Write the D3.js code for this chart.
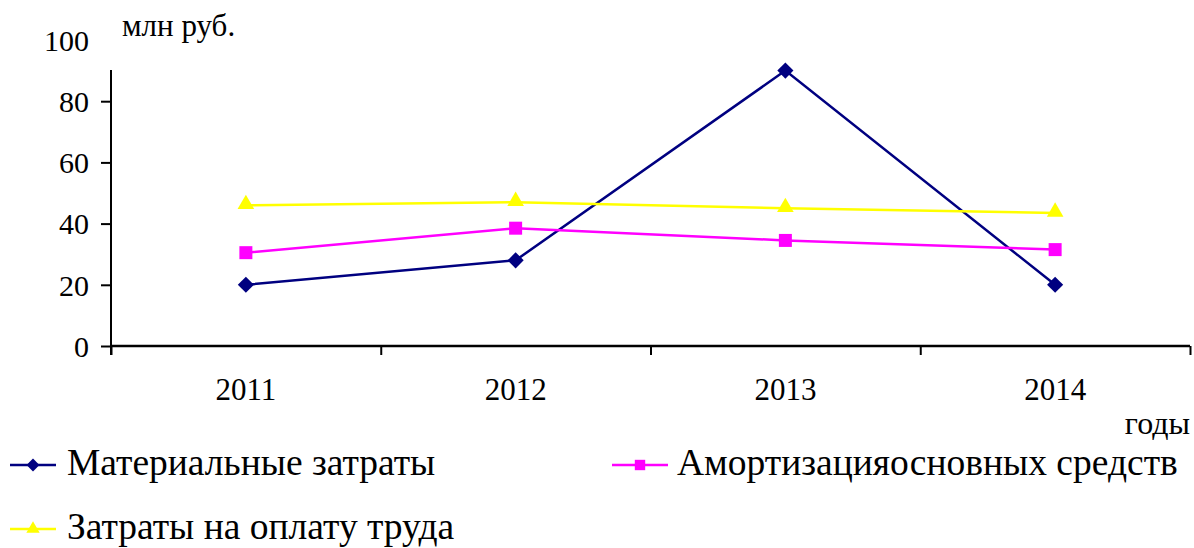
<!DOCTYPE html>
<html>
<head>
<meta charset="utf-8">
<script src="https://cdn.jsdelivr.net/npm/d3@7"></script>
</head>
<body style="margin:0">
<script>
// data
var years = ['2011', '2012', '2013', '2014'];
var material = [20, 28, 90, 20];
var amort = [30.5, 38.5, 34.5, 31.5];
var labor = [46, 47, 45, 43.5];
var yTicks = [0, 20, 40, 60, 80, 100];
var seriesNames = ['Материальные затраты', 'Амортизацияосновных средств', 'Затраты на оплату труда'];

var W = 1194, H = 548;
var mLeft = 111, mRight = 1190, mTop = 40, mBottom = 346;
var serifFont = "'Liberation Serif', 'Times New Roman', serif";

var svg = d3.select('body').append('svg').attr('width', W).attr('height', H)
  .style('font-family', serifFont);

var x = d3.scaleBand().domain(years).range([mLeft, mRight]);
var y = d3.scaleLinear().domain([0, 100]).range([mBottom, mTop]);

// y axis (no tick at 100, axis line starts below it)
var yAxis = svg.append('g').attr('transform', `translate(${mLeft},0)`)
  .call(d3.axisLeft(y).tickValues(yTicks).tickSize(10).tickPadding(12));
yAxis.attr('font-family', null);
yAxis.select('.domain').remove();
yAxis.selectAll('.tick').filter(d => d == 100).select('line').remove();
yAxis.selectAll('line').attr('stroke', '#000').attr('stroke-width', 2);
yAxis.selectAll('text').style('font-family', serifFont).style('font-size', '30px').attr('fill', '#000').attr('dy', '0.34em');
svg.append('line').attr('x1', mLeft).attr('x2', mLeft).attr('y1', 70).attr('y2', mBottom + 9)
  .attr('stroke', '#000').attr('stroke-width', 2);

// x axis: ticks on category boundaries, labels centred in bands
var xb = d3.scaleLinear().domain([0, years.length]).range([mLeft, mRight]);
var xAxis = svg.append('g').attr('transform', `translate(0,${mBottom})`)
  .call(d3.axisBottom(xb).ticks(years.length).tickSize(9).tickFormat(''));
xAxis.select('.domain').remove();
xAxis.selectAll('line').attr('stroke', '#000').attr('stroke-width', 2);
svg.append('line').attr('x1', mLeft).attr('x2', mRight).attr('y1', mBottom).attr('y2', mBottom)
  .attr('stroke', '#000').attr('stroke-width', 2.5);

var xLab = svg.append('g').attr('transform', `translate(0,${mBottom})`)
  .call(d3.axisBottom(x).tickSize(0).tickPadding(32));
xLab.attr('font-family', null);
xLab.select('.domain').remove();
xLab.selectAll('text').style('font-family', serifFont).style('font-size', '31px').attr('fill', '#000');

// axis titles
svg.append('text').attr('x', 122).attr('y', 36).style('font-family', serifFont).style('font-size', '31px').text('млн руб.');
svg.append('text').attr('x', 1190).attr('y', 434).attr('text-anchor', 'end')
  .style('font-family', serifFont).style('font-size', '32px').text('годы');

// series
var series = [
  {name: seriesNames[0], values: material, color: '#000080', shape: 'diamond'},
  {name: seriesNames[1], values: amort, color: '#ff00ff', shape: 'square'},
  {name: seriesNames[2], values: labor, color: '#ffff00', shape: 'triangle'}
];

function marker(shape, big) {
  var k = big ? 1 : 0.8;
  if (shape == 'diamond') return d3.symbol().type(d3.symbolSquare).size(130 * k * k)();
  if (shape == 'square') return d3.symbol().type(d3.symbolSquare).size(169 * k * k)();
  return d3.symbol().type(d3.symbolTriangle).size(120 * k * k)();
}

var line = d3.line().x((d, i) => x(years[i]) + x.bandwidth() / 2).y(d => y(d));

series.forEach(function(s) {
  svg.append('path').attr('d', line(s.values)).attr('fill', 'none')
    .attr('stroke', s.color).attr('stroke-width', 2.5);
  svg.selectAll(null).data(s.values).enter().append('path')
    .attr('d', marker(s.shape, true))
    .attr('fill', s.color)
    .attr('transform', (d, i) => {
      var cx = x(years[i]) + x.bandwidth() / 2, cy = y(d);
      if (s.shape == 'triangle') cy -= 1;
      return `translate(${cx},${cy})` + (s.shape == 'diamond' ? ' rotate(45)' : '');
    });
});

// legend
var legendPos = [[10, 465], [612, 465], [10, 529]];
series.forEach(function(s, i) {
  var g = svg.append('g').attr('transform', `translate(${legendPos[i][0]},${legendPos[i][1]})`);
  g.append('line').attr('x1', 0).attr('x2', i == 1 ? 56 : 46).attr('y1', 0).attr('y2', 0)
    .attr('stroke', s.color).attr('stroke-width', 2.5);
  var mx = i == 1 ? 28 : 23;
  g.append('path').attr('d', marker(s.shape, false)).attr('fill', s.color)
    .attr('transform', `translate(${mx},0)` + (s.shape == 'diamond' ? ' rotate(45)' : ''));
  g.append('text').attr('x', i == 1 ? 65 : 57).attr('y', 10)
    .style('font-family', serifFont).style('font-size', '37.5px').text(s.name);
});
</script>
</body>
</html>
